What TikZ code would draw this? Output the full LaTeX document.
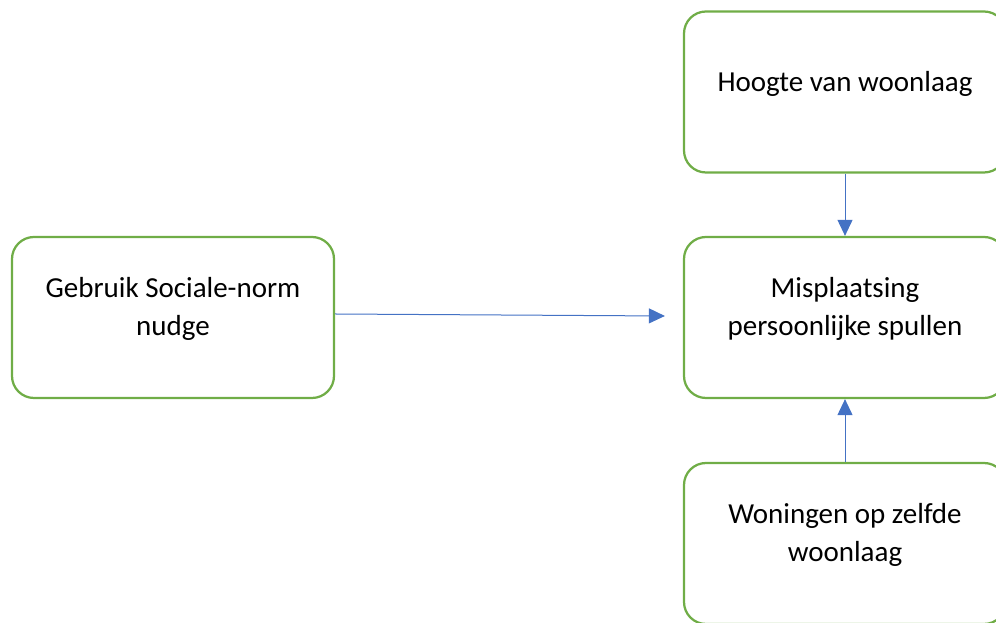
\documentclass[tikz,border=0pt]{standalone}
\usepackage{fontspec}
\setmainfont{Carlito}
\usepackage{tikz}
\usetikzlibrary{arrows.meta}
\definecolor{boxgreen}{HTML}{70AD47}
\definecolor{arrowblue}{HTML}{4472C4}
\tikzstyle{box} = [draw=boxgreen,line width=2.25pt,rounded corners=22pt,minimum width=322pt,minimum height=161pt,align=center,text depth=22pt,font=\fontsize{29}{38}\selectfont]
\tikzstyle{link} = [draw=arrowblue,line width=1pt]

\begin{document}
\begin{tikzpicture}[x=1pt,y=1pt,>={Triangle[length=16pt,width=15pt]}]
    \useasboundingbox (0,0) rectangle (996,623);

% Draw boxes
    \node[box] at (173, 305.5) (nudge) {Gebruik Sociale-norm\\nudge};
    \node[box] at (845, 531) (hoogte) {Hoogte van woonlaag};
    \node[box] at (845, 305.5) (misplaatsing) {Misplaatsing\\persoonlijke spullen};
    \node[box] at (845, 79.5) (woningen) {Woningen op zelfde\\woonlaag};

    % join up
    \draw[link,->] ([yshift=3.5pt]nudge.east) -- ([xshift=-18pt,yshift=1.5pt]misplaatsing.west);
    \draw[link,->] (hoogte) -- (misplaatsing);
    \draw[link,->] (woningen) -- (misplaatsing);

\end{tikzpicture}
\end{document}
